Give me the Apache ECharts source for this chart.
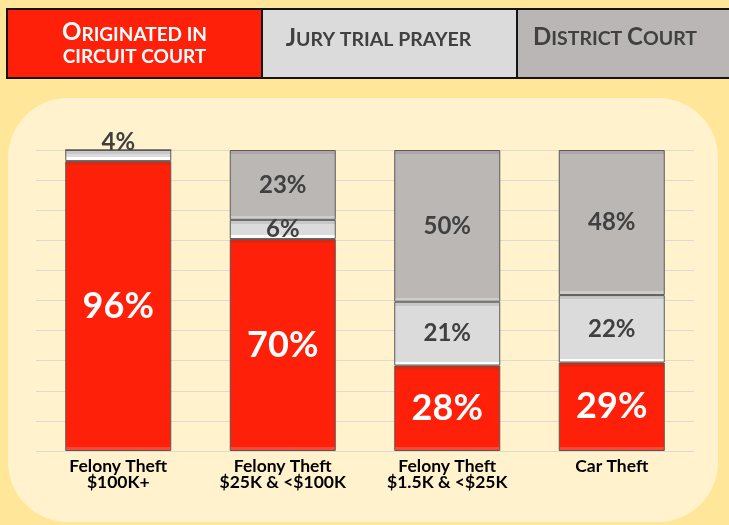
<!DOCTYPE html>
<html>
<head>
<meta charset="utf-8">
<style>
html,body{margin:0;padding:0;background:#FFE699;}
#chart{width:729px;height:525px;}
</style>
<script src="https://cdn.jsdelivr.net/npm/echarts@6/dist/echarts.min.js"></script>
</head>
<body>
<div id="chart"></div>
<script>
const categories = ['Felony Theft\n$100K+', 'Felony Theft\n$25K & <$100K', 'Felony Theft\n$1.5K & <$25K', 'Car Theft'];
const seriesNames = ['Originated in circuit court', 'Jury trial prayer', 'District Court'];
const circuit = [96.3, 70.4, 28.4, 29.4];
const jury = [3.7, 6.4, 21.2, 22.4];
const district = [0, 23.2, 50.4, 48.2];
const yMin = 0, yMax = 100, yStep = 10;

const FONT = 'Lato';
const legendText = {
  'Originated in circuit court': '{wL|O}{wS|RIGINATED IN}\n{wS2|CIRCUIT COURT}',
  'Jury trial prayer': '{gL|J}{gS|URY TRIAL PRAYER}',
  'District Court': '{gL|D}{gS|ISTRICT }{gL|C}{gS|OURT}'
};
function tok(color, size) {
  return { color: color, fontSize: size, fontWeight: 'bold', fontFamily: FONT, align: 'center', verticalAlign: 'bottom' };
}
const pctLabel = p => (p.value > 0 ? Math.round(p.value) + '%' : '');

// bevel-like shading: thin bands at top and bottom of each segment (style only)
const PLOT_H = 301;
function bevel(value, main, top, bottom) {
  const h = Math.max(1, value / (yMax - yMin) * PLOT_H);
  const t = Math.min(0.45, 4 / h), b = Math.min(0.45, 4 / h);
  return {
    type: 'linear', x: 0, y: 0, x2: 0, y2: 1,
    colorStops: [
      { offset: 0, color: top }, { offset: t, color: top },
      { offset: t, color: main }, { offset: 1 - b, color: main },
      { offset: 1 - b, color: bottom }, { offset: 1, color: bottom }
    ]
  };
}
function styled(values, main, top, bottom) {
  return values.map(v => ({ value: v, itemStyle: { color: bevel(v, main, top, bottom) } }));
}

const circuitData = styled(circuit, '#FF200A', '#E3240F', '#FF4733');
const juryData = styled(jury, '#DCDBDB', '#C9C8C8', '#FDFDFD');
juryData[0].label = { position: 'top', distance: -4 };
const districtData = styled(district, '#BAB7B5', '#ABA8A7', '#CFCDCC');

const chart = echarts.init(document.getElementById('chart'), null, { renderer: 'canvas' });
chart.setOption({
  backgroundColor: '#FFE699',
  animation: false,
  graphic: [{
    type: 'rect', z: -10, silent: true,
    shape: { x: 8, y: 98, width: 710, height: 424, r: 60 },
    style: { fill: '#FFF2CC' }
  }, {
    // the third legend box runs past the right edge in the original: hide its right border
    type: 'rect', z: 100, silent: true,
    shape: { x: 724, y: 10, width: 6, height: 65 },
    style: { fill: '#B9B6B5' }
  }],
  legend: {
    left: 3, top: 8, width: 800, padding: 0, orient: 'horizontal',
    itemGap: -5, itemWidth: 0, itemHeight: 0, selectedMode: false,
    itemStyle: { opacity: 0, borderWidth: 0 },
    formatter: name => legendText[name],
    textStyle: {
      borderColor: '#141414', borderWidth: 2, lineHeight: 22,
      rich: {
        wL: tok('#FFFFFF', 24), wS: tok('#FFFFFF', 19), wS2: tok('#FFFFFF', 19),
        gL: tok('#404040', 24), gS: tok('#404040', 19.5)
      }
    },
    data: [
      { name: seriesNames[0], textStyle: { backgroundColor: '#FF200A', width: 253, padding: [12, 0, 11, 0] } },
      { name: seriesNames[1], textStyle: { backgroundColor: '#DCDBDB', width: 231, padding: [18, 22, 27, 0] } },
      { name: seriesNames[2], textStyle: { backgroundColor: '#B9B6B5', width: 194, padding: [17, 40, 28, 0] } }
    ]
  },
  grid: { left: 36, right: 35, top: 150, bottom: 74, containLabel: false },
  xAxis: {
    type: 'category', data: categories,
    axisLine: { show: false }, axisTick: { show: false },
    axisLabel: { color: '#000000', fontFamily: FONT, fontWeight: 'bold', fontSize: 17.5, lineHeight: 16, margin: 7, interval: 0 }
  },
  yAxis: {
    type: 'value', min: yMin, max: yMax, interval: yStep,
    axisLabel: { show: false }, axisLine: { show: false }, axisTick: { show: false },
    splitLine: { lineStyle: { color: '#DDDAD2', width: 1 } }
  },
  series: [
    {
      name: seriesNames[0], type: 'bar', stack: 'total', barWidth: 106, data: circuitData,
      itemStyle: { color: '#FF200A', borderColor: '#5f5550', borderWidth: 1 },
      label: { show: true, position: 'inside', formatter: pctLabel, color: '#FFFFFF', fontFamily: FONT, fontWeight: 'bold', fontSize: 36 }
    },
    {
      name: seriesNames[1], type: 'bar', stack: 'total', barWidth: 106, data: juryData,
      itemStyle: { color: '#DCDBDB', borderColor: '#595959', borderWidth: 1 },
      label: { show: true, position: 'inside', formatter: pctLabel, color: '#404040', fontFamily: FONT, fontWeight: 'bold', fontSize: 24 }
    },
    {
      name: seriesNames[2], type: 'bar', stack: 'total', barWidth: 106, data: districtData,
      itemStyle: { color: '#BAB7B5', borderColor: '#595959', borderWidth: 1 },
      label: { show: true, position: 'inside', formatter: pctLabel, color: '#404040', fontFamily: FONT, fontWeight: 'bold', fontSize: 24 }
    }
  ]
});
</script>
</body>
</html>
